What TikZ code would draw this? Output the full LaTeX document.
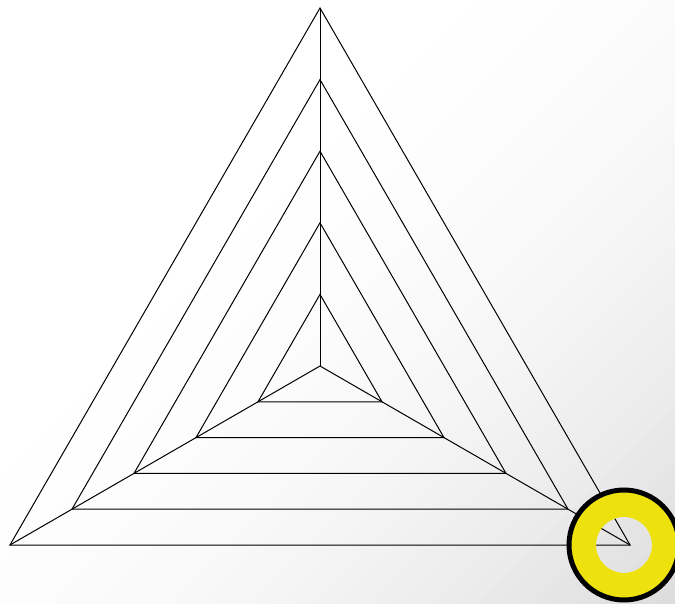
\documentclass[tikz,border=0pt]{standalone}
\usetikzlibrary{calc}
\begin{document}
\begin{tikzpicture}[x=1pt,y=-1pt,
  tri/.style={draw=black,line width=1pt,line join=miter},
  spoke/.style={draw=black,line width=1pt},
  ring/.style={fill=ringyellow,even odd rule},
  ringedge/.style={draw=black,line width=5pt}]
\definecolor{ringyellow}{RGB}{238,226,14}
\useasboundingbox (0,0) rectangle (675,604);
\clip (0,0) rectangle (675,604);
\fill[white] (0,0) rectangle (675,604);
\foreach \i in {19,...,64}{
  \pgfmathsetmacro{\sa}{20*\i}
  \pgfmathsetmacro{\sb}{20*\i+20.6}
  \pgfmathsetmacro{\t}{(20*\i+10)/1279}
  \pgfmathsetmacro{\p}{max(0,71*(\t-0.3)^2)/2.55}
  \fill[black!\p] (\sa+1000,-1000) -- (\sa-1000,1000) -- (\sb-1000,1000) -- (\sb+1000,-1000) -- cycle;
}
\coordinate (C) at (320,366);
\foreach \k in {1,...,5}{
  \pgfmathsetmacro{\r}{71.6*\k}
  \pgfmathsetmacro{\h}{0.8660254*\r}
  \pgfmathsetmacro{\v}{0.5*\r}
  \coordinate (T\k) at ($(C)+(0,-\r)$);
  \coordinate (L\k) at ($(C)+(-\h,\v)$);
  \coordinate (R\k) at ($(C)+(\h,\v)$);
  \draw[tri] (T\k) -- (L\k) -- (R\k) -- cycle;
}
\draw[spoke] (C) -- (T5);
\draw[spoke] (C) -- (L5);
\draw[spoke] (C) -- (R5);
\coordinate (O) at (624,545);
\fill[ring] (O) circle[radius=55] (O) circle[radius=28];
\draw[ringedge] (O) circle[radius=55];
\end{tikzpicture}
\end{document}
